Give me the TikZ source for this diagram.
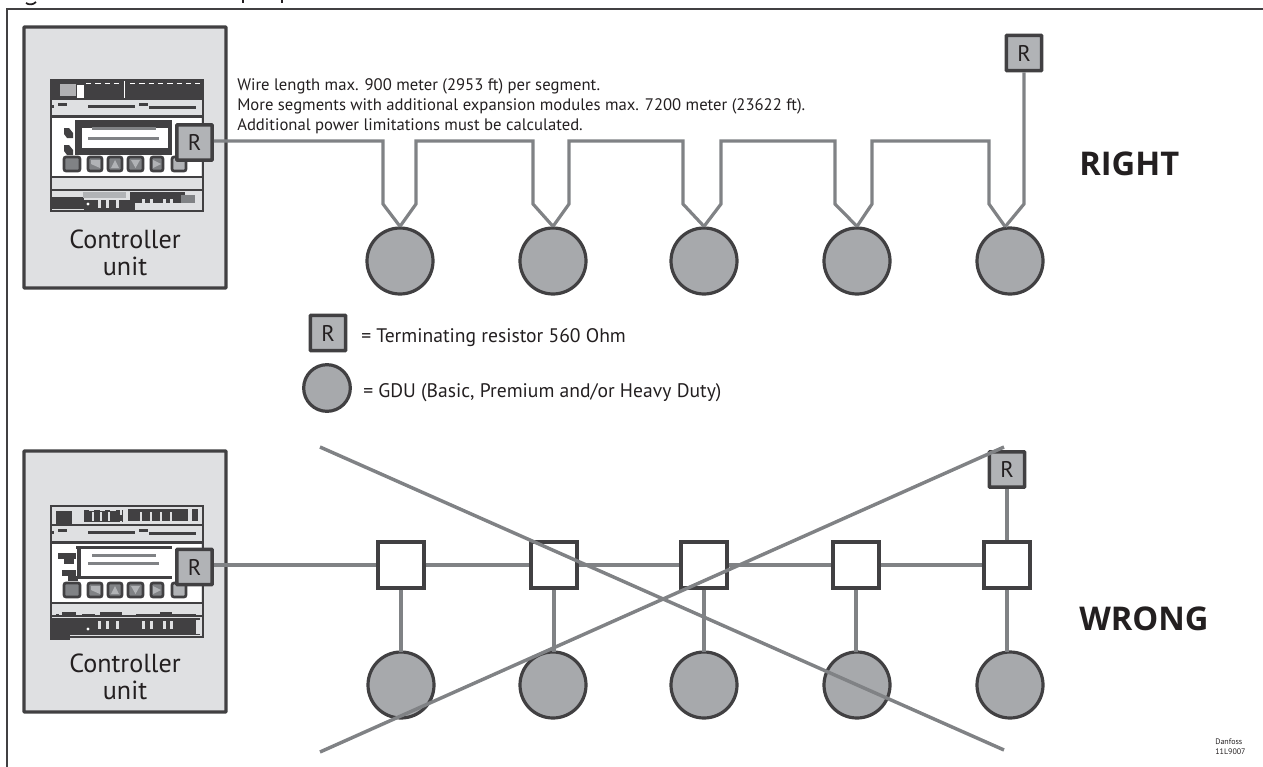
\documentclass[tikz,border=0pt]{standalone}
\usepackage{fontspec}
\setmainfont{PT Sans}
\newfontfamily\verdictfont{Open Sans}
\definecolor{edgec}{HTML}{414042}
\definecolor{wirec}{HTML}{808285}
\definecolor{boxc}{HTML}{DFE0E2}
\definecolor{resc}{HTML}{B1B3B6}
\definecolor{gduc}{HTML}{A7A9AC}
\definecolor{txtc}{HTML}{231F20}
\tikzset{
  resbox/.style={draw=edgec,fill=resc,line width=2.6pt,rounded corners=0.5pt,minimum size=26.5pt,inner sep=0pt,text=txtc,font=\fontsize{17}{17}\selectfont},
  gdu/.style={circle,draw=edgec,fill=gduc,line width=2.4pt,minimum size=49.5pt,inner sep=0pt},
  junction/.style={draw=edgec,fill=white,line width=2.4pt,minimum size=34.5pt,inner sep=0pt},
  wire/.style={draw=wirec,line width=2.4pt,line join=miter},
  cross/.style={draw=wirec,line width=2.6pt},
  unitbox/.style={draw=edgec,fill=boxc,line width=2.4pt,rounded corners=0.5pt},
  unitlabel/.style={align=center,text=txtc,font=\fontsize{19.6}{20.25}\selectfont,inner sep=0pt},
  txt/.style={anchor=base west,inner sep=0pt,text=txtc,font=\fontsize{12.5}{15}\selectfont},
  legendtxt/.style={anchor=base west,inner sep=0pt,text=txtc,font=\fontsize{14.7}{15}\selectfont},
  verdict/.style={anchor=base west,inner sep=0pt,text=txtc,font=\fontsize{24.5}{25}\selectfont\verdictfont\bfseries},
  devline/.style={draw=edgec,line width=2pt},
  keyc/.style={draw=edgec,fill=wirec,line width=2pt,rounded corners=1.5pt},
}
\newcommand{\devcommon}{%
  \fill[white] (52,117) rectangle (201,177);
  \draw[devline] (51,80) rectangle (203,211);
  \draw[devline] (51,99) -- (203,99);
  \draw[devline] (51,116.5) -- (203,116.5);
  \draw[devline] (51,177) -- (203,177);
  \draw[devline] (51,190) -- (203,190);
  \fill[edgec] (88,105) rectangle (135,108);
  \fill[edgec] (149,105.5) rectangle (196,108.5);
  \fill[edgec] (58,103) rectangle (67,106);
  \fill[edgec] (139,103) rectangle (148,106);
  \fill[edgec] (52,105) rectangle (54,108);
  \draw[keyc] (64,157) rectangle (80,171);
  \draw[keyc] (88,157) rectangle (102,171);
  \draw[keyc] (108,157) rectangle (122,171);
  \draw[keyc] (128,157) rectangle (143,171);
  \draw[keyc] (151,157) rectangle (163,171);
  \draw[keyc,fill=resc] (172,157) rectangle (186,171);
  \fill[resc] (91,160) -- (100,160) -- (100,168) -- (91,164) -- cycle;
  \fill[resc] (111,168) -- (115,160) -- (119,168) -- cycle;
  \fill[resc] (131,160) -- (140,160) -- (135.5,168) -- cycle;
  \fill[resc] (153,160) -- (161,164) -- (153,168) -- cycle;
}
\begin{document}
\begin{tikzpicture}[x=0.75pt,y=-0.75pt]
\useasboundingbox (0,0) rectangle (1263,767);
% frame and clipped title descenders
\draw[edgec,line width=1.1pt] (7,767) -- (7,9) -- (1263,9);
\draw[txtc,line width=1.3pt] (26,3) .. controls (29,5) and (33,5) .. (36,2);
\draw[txtc,line width=1.5pt] (243,0) -- (243,3.5);
\draw[txtc,line width=1.5pt] (282,0) -- (282,3.5);
% unit boxes
\draw[unitbox] (24,27) rectangle (226,288);
\draw[unitbox] (24,451) rectangle (226,712);
% upper controller device
\begin{scope}
  \devcommon
  \fill[edgec] (50,79) rectangle (203,98);
  \fill[boxc!70!edgec] (60,84) rectangle (76,96);
  \fill[white] (77,85) rectangle (84,98);
  \draw[white,line width=1.1pt,dash pattern=on 4pt off 3pt] (86,83.5) -- (122,83.5);
  \draw[white,line width=1.1pt,dash pattern=on 4pt off 3pt] (130,83.5) -- (200,83.5);
  \draw[white,line width=0.8pt] (124.5,81) -- (124.5,98);
  \fill[edgec] (75,120) rectangle (172,155);
  \fill[white] (82,128) rectangle (168,148);
  \fill[wirec] (92,127) rectangle (156,130);
  \fill[wirec] (88,137) rectangle (159,140);
  \fill[edgec] (64,128) -- (69,128) -- (73,133) -- (73,138) -- (67,138) -- (64,134) -- cycle;
  \fill[edgec] (64,145) -- (69,145) -- (73,150) -- (73,155) -- (67,155) -- (64,151) -- cycle;
  \fill[edgec] (56,188.5) rectangle (58,191);
  \fill[edgec] (72,188.5) rectangle (78,191);
  \fill[edgec] (82,188.5) rectangle (95,191);
  \fill[edgec] (109,188.5) rectangle (122,191);
  \fill[edgec] (136,188.5) rectangle (158,191);
  \fill[edgec] (172,188.5) rectangle (196,191);
  \fill[edgec] (50,197) rectangle (84,209);
  \fill[edgec] (84,200) rectangle (135,211);
  \fill[edgec] (130,192) rectangle (185,203);
  \fill[resc] (83,192) rectangle (126,198);
  \fill[white] (88,204) circle (1.6);
  \foreach \px in {98,106,116,142,150,163,170} {\fill[boxc] (\px,199) rectangle (\px+3,208);}
  \fill[boxc] (190,194) rectangle (201,209);
  \fill[wirec] (181,195) rectangle (195,203);
\end{scope}
% lower controller device
\begin{scope}[yshift=-319.5pt]
  \devcommon
  \fill[edgec] (56,85) rectangle (72,99);
  \fill[edgec] (84,84) rectangle (123,96);
  \fill[edgec] (128,83) rectangle (188,95);
  \fill[edgec] (192,83) rectangle (198,95);
  \draw[boxc,line width=0.8pt,dash pattern=on 4pt off 4pt] (89,84) -- (121,84) -- (121,96);
  \foreach \px in {92,100,108,140,150,160,170} {\fill[boxc] (\px,86) rectangle (\px+1.5,95);}
  \fill[edgec] (76,120) rectangle (172,123);
  \fill[edgec] (76,150) rectangle (172,153);
  \fill[edgec] (77,123) rectangle (81,150);
  \fill[wirec] (92,128) rectangle (156,131);
  \fill[wirec] (88,136) rectangle (159,139);
  \fill[edgec] (58,127) rectangle (76,133);
  \fill[edgec] (64,133) rectangle (74,138);
  \fill[edgec] (62,144) rectangle (76,150);
  \fill[edgec] (68,150) rectangle (78,155);
  \fill[edgec] (56,188) rectangle (59,191);
  \fill[edgec] (62,186) rectangle (76,191);
  \fill[edgec] (82,188) rectangle (95,191);
  \fill[edgec] (100,186) rectangle (122,191);
  \fill[edgec] (136,188) rectangle (196,191);
  \fill[edgec] (160,186) rectangle (172,188);
  \fill[edgec] (50,192) rectangle (200,209);
  \fill[edgec] (50,209) rectangle (70,214);
  \fill[white] (88,203) circle (1.6);
  \foreach \px in {98,106,116,142,150,163,170} {\fill[boxc] (\px,195) rectangle (\px+3,203);}
  \fill[boxc] (196,194) rectangle (201,208);
\end{scope}
% RIGHT diagram
\node[resbox] (r1) at (194.5,142.5) {R};
\node[resbox] (r2) at (1024,53) {R};
\foreach \n/\cx in {1/400,2/553,3/704,4/857,5/1010}{
  \node[gdu] (g\n) at (\cx,261) {};
}
\coordinate (a1) at (383,141); \coordinate (a2) at (383,204);
\coordinate (b1) at (416,204); \coordinate (b2) at (416,141);
\coordinate (c1) at (533,141); \coordinate (c2) at (533,204);
\coordinate (d1) at (569,204); \coordinate (d2) at (569,141);
\coordinate (e1) at (683,141); \coordinate (e2) at (683,204);
\coordinate (f1) at (721,204); \coordinate (f2) at (721,141);
\coordinate (h1) at (835,141); \coordinate (h2) at (835,204);
\coordinate (i1) at (872,204); \coordinate (i2) at (872,141);
\coordinate (j1) at (989,141); \coordinate (j2) at (989,204);
\coordinate (k1) at (1024,204);
\draw[wire] (r1.east |- a1) -- (a1) -- (a2) -- (g1.north);
\draw[wire] (g1.north) -- (b1) -- (b2) -- (c1) -- (c2) -- (g2.north);
\draw[wire] (g2.north) -- (d1) -- (d2) -- (e1) -- (e2) -- (g3.north);
\draw[wire] (g3.north) -- (f1) -- (f2) -- (h1) -- (h2) -- (g4.north);
\draw[wire] (g4.north) -- (i1) -- (i2) -- (j1) -- (j2) -- (g5.98);
\draw[wire] (g5.98) -- (k1) -- (r2.south);
\node[txt] (wt1) at (237,90) {Wire length max. 900 meter (2953 ft) per segment.};
\node[txt] (wt2) at (237,110) {More segments with additional expansion modules max. 7200 meter (23622 ft).};
\node[txt] (wt3) at (237,130) {Additional power limitations must be calculated.};
\node[unitlabel,anchor=base] (u1) at (125,275) {Controller\\unit};
\node[verdict] (right) at (1079,175) {RIGHT};
% legend
\node[resbox] (lr) at (328,333) {R};
\node[legendtxt] (lrt) at (361,342) {= Terminating resistor 560 Ohm};
\node[gdu,minimum size=35pt] (lg) at (327,388) {};
\node[legendtxt] (lgt) at (363,397) {= GDU (Basic, Premium and/or Heavy Duty)};
% WRONG diagram
\node[resbox] (r3) at (194.5,567) {R};
\node[resbox] (r4) at (1007,469.5) {R};
\foreach \n/\cx/\sx in {1/401/401,2/553/554,3/704/704,4/857/856,5/1010/1007}{
  \node[gdu] (w\n) at (\cx,685) {};
  \node[junction] (s\n) at (\sx,565) {};
  \coordinate (t\n) at (\sx,652);
}
\draw[wire] (r3.east |- s1) -- (s1.west);
\draw[wire] (s1.east) -- (s2.west);
\draw[wire] (s2.east) -- (s3.west);
\draw[wire] (s3.east) -- (s4.west);
\draw[wire] (s4.east) -- (s5.west);
\draw[wire] (s5.north) -- (r4.south);
\foreach \n in {1,...,5}{\draw[wire] (s\n.south) -- (t\n);}
\node[unitlabel,anchor=base] (u2) at (125,699) {Controller\\unit};
\node[verdict] (wrong) at (1079,630) {WRONG};
\coordinate (x1) at (320,447); \coordinate (x2) at (1004,750);
\coordinate (x3) at (320,752); \coordinate (x4) at (1004,447);
\draw[cross] (x1) -- (x2);
\draw[cross] (x3) -- (x4);
\node[anchor=base west,inner sep=0pt,text=txtc,align=left,font=\fontsize{6}{6.8}\selectfont] (ref) at (1215,754) {Danfoss\\11L9007};
\end{tikzpicture}
\end{document}
